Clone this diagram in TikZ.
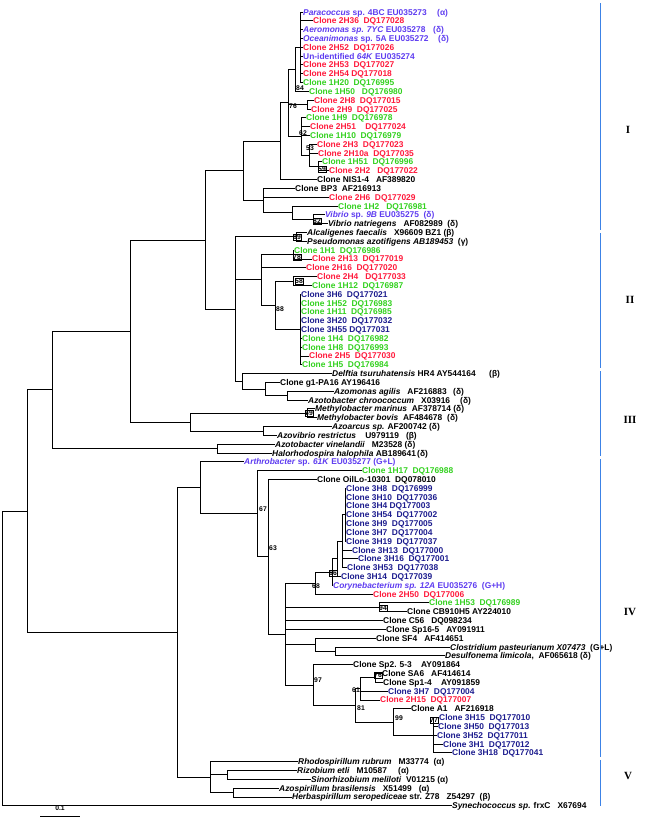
\documentclass[tikz,border=0pt]{standalone}
\usepackage{fontspec}
\setmainfont{Liberation Sans}
\newfontfamily\romfont{Liberation Serif}
\definecolor{cred}{HTML}{FF1A3C}
\definecolor{cgreen}{HTML}{33D11F}
\definecolor{cnavy}{HTML}{1C1C8E}
\definecolor{cviolet}{HTML}{5E3CF0}
\definecolor{cbar}{HTML}{3C82E6}
\newcommand\mkl[4]{\node[lf,text=#2] (l#1) at (#3,{12+(#1-1)*8.82}) {#4};}
\newcommand\mkg[4]{\node[lf,text=#2] (g#1) at (#3,{12+(#1-1)*8.82}) {#4};}
\newcommand\mkc[3]{\coordinate (#1) at (#2,{12+(#3-1)*8.82});}
\newcommand\mke[2]{\draw[br] (#1) |- (#2);}
\newcommand\mkls[2]{\foreach \q in {#2} {\draw[br] (#1) |- (l\q.west);}}
\begin{document}
\begin{tikzpicture}[x=1pt,y=-1pt,
  lf/.style={anchor=west,inner sep=0pt,font=\fontsize{8.4}{9}\selectfont\bfseries,text height=6pt,text depth=0pt},
  br/.style={line width=0.9pt},
  bs/.style={font=\fontsize{6.8}{7}\selectfont\bfseries,inner sep=0.3pt,text height=4.8pt,text depth=0pt},
  bsb/.style={bs,draw,line width=0.4pt},
  rom/.style={font=\romfont\fontsize{11}{12}\selectfont\bfseries},
  grp/.style={cbar,line width=1pt}]
\useasboundingbox (0,0) rectangle (656,820);
% ---------- leaves ----------
\mkl{1}{cviolet}{303}{\textit{Paracoccus} sp. 4BC EU035273}
\mkg{1}{cviolet}{437}{(α)}
\mkl{2}{cred}{313}{Clone 2H36\ \ DQ177028}
\mkl{3}{cviolet}{303}{\textit{Aeromonas sp. 7YC} EU035278}
\mkg{3}{cviolet}{433}{(δ)}
\mkl{4}{cviolet}{303}{\textit{Oceanimonas} sp. 5A EU035272}
\mkg{4}{cviolet}{438}{(δ)}
\mkl{5}{cred}{303}{Clone 2H52\ \ DQ177026}
\mkl{6}{cviolet}{303}{Un-identified \textit{64K} EU035274}
\mkl{7}{cred}{303}{Clone 2H53\ \ DQ177027}
\mkl{8}{cred}{303}{Clone 2H54 DQ177018}
\mkl{9}{cgreen}{303}{Clone 1H20\ \ DQ176995}
\mkl{10}{cgreen}{309}{Clone 1H50\ \ \ DQ176980}
\mkl{11}{cred}{314}{Clone 2H8\ \ DQ177015}
\mkl{12}{cred}{311}{Clone 2H9\ \ DQ177025}
\mkl{13}{cgreen}{306}{Clone 1H9\ \ DQ176978}
\mkl{14}{cred}{310}{Clone 2H51\ \ \ \ DQ177024}
\mkl{15}{cgreen}{310}{Clone 1H10\ \ DQ176979}
\mkl{16}{cred}{317}{Clone 2H3\ \ DQ177023}
\mkl{17}{cred}{318}{Clone 2H10a\ \ DQ177035}
\mkl{18}{cgreen}{322}{Clone 1H51\ \ DQ176996}
\mkl{19}{cred}{329}{Clone 2H2\ \ \ DQ177022}
\mkl{20}{black}{317}{Clone NIS1-4\ \ \ AF389820}
\mkl{21}{black}{295}{Clone BP3\ \ AF216913}
\mkl{22}{cred}{329}{Clone 2H6\ \ DQ177029}
\mkl{23}{cgreen}{338}{Clone 1H2\ \ \ DQ176981}
\mkl{24}{cviolet}{325}{\textit{Vibrio} sp. \textit{9B} EU035275\ \ (δ)}
\mkl{25}{black}{328}{\textit{Vibrio natriegens}\ \ \ AF082989\ \ (δ)}
\mkl{26}{black}{307}{\textit{Alcaligenes faecalis}\ \ \ X96609 BZ1 (β)}
\mkl{27}{black}{307}{\textit{Pseudomonas azotifigens AB189453}\ \ (γ)}
\mkl{28}{cgreen}{294}{Clone 1H1\ \ DQ176986}
\mkl{29}{cred}{312}{Clone 2H13\ \ DQ177019}
\mkl{30}{cred}{306}{Clone 2H16\ \ DQ177020}
\mkl{31}{cred}{317}{Clone 2H4\ \ \ DQ177033}
\mkl{32}{cgreen}{312}{Clone 1H12\ \ DQ176987}
\mkl{33}{cnavy}{301}{Clone 3H6\ \ DQ177021}
\mkl{34}{cgreen}{301}{Clone 1H52\ \ DQ176983}
\mkl{35}{cgreen}{301}{Clone 1H11\ \ DQ176985}
\mkl{36}{cnavy}{301}{Clone 3H20\ \ DQ177032}
\mkl{37}{cnavy}{301}{Clone 3H55 DQ177031}
\mkl{38}{cgreen}{302}{Clone 1H4\ \ DQ176982}
\mkl{39}{cgreen}{302}{Clone 1H8\ \ DQ176993}
\mkl{40}{cred}{309}{Clone 2H5\ \ DQ177030}
\mkl{41}{cgreen}{302}{Clone 1H5\ \ DQ176984}
\mkl{42}{black}{332}{\textit{Delftia tsuruhatensis} HR4 AY544164}
\mkg{42}{black}{489}{(β)}
\mkl{43}{black}{280}{Clone g1-PA16 AY196416}
\mkl{44}{black}{334}{\textit{Azomonas agilis}\ \ \ AF216883}
\mkg{44}{black}{453}{(δ)}
\mkl{45}{black}{308}{\textit{Azotobacter chroococcum}\ \ \ X03916}
\mkg{45}{black}{460}{(δ)}
\mkl{46}{black}{315}{\textit{Methylobacter marinus}\ \ AF378714 (δ)}
\mkl{47}{black}{317}{\textit{Methylobacter bovis}\ \ AF484678}
\mkg{47}{black}{447}{(δ)}
\mkl{48}{black}{332}{\textit{Azoarcus sp.} AF200742 (δ)}
\mkl{49}{black}{277}{\textit{Azovibrio restrictus}\ \ \ \ U979119\ \ \ (β)}
\mkl{50}{black}{275}{\textit{Azotobacter vinelandii}\ \ \ M23528 (δ)}
\mkl{51}{black}{272}{\textit{Halorhodospira halophila} AB189641}
\mkg{51}{black}{417}{(δ)}
\mkl{52}{cviolet}{244}{\textit{Arthrobacter} sp. \textit{61K} EU035277 (G+L)}
\mkl{53}{cgreen}{362}{Clone 1H17\ \ DQ176988}
\mkl{54}{black}{317}{Clone OilLo-10301\ \ DQ078010}
\mkl{55}{cnavy}{346}{Clone 3H8\ \ DQ176999}
\mkl{56}{cnavy}{346}{Clone 3H10\ \ DQ177036}
\mkl{57}{cnavy}{346}{Clone 3H4 DQ177003}
\mkl{58}{cnavy}{346}{Clone 3H54\ \ DQ177002}
\mkl{59}{cnavy}{346}{Clone 3H9\ \ DQ177005}
\mkl{60}{cnavy}{346}{Clone 3H7\ \ DQ177004}
\mkl{61}{cnavy}{346}{Clone 3H19\ \ DQ177037}
\mkl{62}{cnavy}{352}{Clone 3H13\ \ DQ177000}
\mkl{63}{cnavy}{358}{Clone 3H16\ \ DQ177001}
\mkl{64}{cnavy}{347}{Clone 3H53\ \ DQ177038}
\mkl{65}{cnavy}{341}{Clone 3H14\ \ DQ177039}
\mkl{66}{cviolet}{333}{\textit{Corynebacterium sp. 12A} EU035276\ \ (G+H)}
\mkl{67}{cred}{373}{Clone 2H50\ \ DQ177006}
\mkl{68}{cgreen}{429}{Clone 1H53\ \ DQ176989}
\mkl{69}{black}{407}{Clone CB910H5 AY224010}
\mkl{70}{black}{383}{Clone C56\ \ \ DQ098234}
\mkl{71}{black}{386}{Clone Sp16-5\ \ \ AY091911}
\mkl{72}{black}{376}{Clone SF4\ \ \ AF414651}
\mkl{73}{black}{450}{\textit{Clostridium pasteurianum X07473}\ \ (G+L)}
\mkl{74}{black}{445}{\textit{Desulfonema limicola},\ \ AF065618 (δ)}
\mkl{75}{black}{353}{Clone Sp2. 5-3\ \ \ \ AY091864}
\mkl{76}{black}{382}{Clone SA6\ \ \ AF414614}
\mkl{77}{black}{383}{Clone Sp1-4\ \ \ \ AY091859}
\mkl{78}{cnavy}{388}{Clone 3H7\ \ DQ177004}
\mkl{79}{cred}{380}{Clone 2H15\ \ DQ177007}
\mkl{80}{black}{411}{Clone A1\ \ \ AF216918}
\mkl{81}{cnavy}{439}{Clone 3H15\ \ DQ177010}
\mkl{82}{cnavy}{438}{Clone 3H50\ \ DQ177013}
\mkl{83}{cnavy}{437}{Clone 3H52\ \ DQ177011}
\mkl{84}{cnavy}{443}{Clone 3H1\ \ DQ177012}
\mkl{85}{cnavy}{452}{Clone 3H18\ \ DQ177041}
\mkl{86}{black}{298}{\textit{Rhodospirillum rubrum}\ \ \ M33774\ \ (α)}
\mkl{87}{black}{297}{\textit{Rizobium etli}\ \ \ M10587}
\mkg{87}{black}{398}{(α)}
\mkl{88}{black}{311}{\textit{Sinorhizobium meliloti}\ \ V01215 (α)}
\mkl{89}{black}{279}{\textit{Azospirillum brasilensis}\ \ \ X51499\ \ \ (α)}
\mkl{90}{black}{292}{\textit{Herbaspirillum seropediceae} str. Z78\ \ \ Z54297\ \ (β)}
\mkl{91}{black}{452}{\textit{Synechococcus sp.} frxC\ \ \ X67694}
% ---------- internal nodes ----------
\mkc{nTop}{300}{5}
\mkc{n84}{295}{7.5}
\mkc{n2h8}{307}{11.5}
\mkc{n59}{318}{18.5}
\mkc{n53}{309}{17.25}
\mkc{n62}{301}{15.125}
\mkc{n76}{288}{11.31}
\mkc{n280}{280}{15.66}
\mkc{n82}{313}{24.5}
\mkc{n292}{292}{23.75}
\mkc{n263}{263}{22.375}
\mkc{n243}{243}{19.0}
\mkc{n89}{296}{26.5}
\mkc{n78}{293}{28.5}
\mkc{n58}{293}{31.5}
\mkc{n3}{300}{37}
\mkc{n88}{275}{34.25}
\mkc{n261}{261}{31.375}
\mkc{nAzo}{287}{44.5}
\mkc{n265}{265}{43.75}
\mkc{n242}{242}{42.875}
\mkc{n235}{235}{34.69}
\mkc{n69}{307}{46.5}
\mkc{nAzr}{263}{48.5}
\mkc{nAv}{217}{50.5}
\mkc{nA}{205}{26.85}
\mkc{nB}{190}{47.5}
\mkc{nC}{130}{37.2}
\mkc{nD}{52}{43.85}
\mkc{n3Ha}{345}{58}
\mkc{n342}{342}{61}
\mkc{n66}{337}{63}
\mkc{n333}{332}{64.5}
\mkc{n68}{315}{65.75}
\mkc{n94}{379}{68.5}
\mkc{nCl}{335}{73.5}
\mkc{nSF}{315}{72.75}
\mkc{n3H15}{433}{83}
\mkc{n99}{393}{81.5}
\mkc{nSA}{375}{76.5}
\mkc{n61}{360}{77.75}
\mkc{n81}{355}{79.625}
\mkc{n97}{313}{77.31}
\mkc{nX}{285}{71.53}
\mkc{n63}{268}{62.77}
\mkc{n67}{257}{57.88}
\mkc{nAr}{200}{54.94}
\mkc{n227}{227}{87.5}
\mkc{n233}{233}{89.5}
\mkc{nV}{210}{87.75}
\mkc{n177}{177}{71.35}
\mkc{nE}{27}{57.6}
\mkc{nR}{2}{74.3}
% ---------- branches ----------
\mkls{nTop}{1,2,3,4,5,6,7,8,9}
\mke{n84}{nTop}\mkls{n84}{10}
\mkls{n2h8}{11,12}
\mkls{n59}{18,19}
\mkls{n53}{16,17}\mke{n53}{n59}
\mkls{n62}{13,14,15}\mke{n62}{n53}
\mke{n76}{n84}\mke{n76}{n2h8}\mke{n76}{n62}
\mke{n280}{n76}\mkls{n280}{20}
\mkls{n82}{24,25}
\mkls{n292}{23}\mke{n292}{n82}
\mkls{n263}{21,22}\mke{n263}{n292}
\mke{n243}{n280}\mke{n243}{n263}
\mkls{n89}{26,27}
\mkls{n78}{28,29}
\mkls{n58}{31,32}
\mkls{n3}{33,34,35,36,37,38,39,40,41}
\mke{n88}{n58}\mke{n88}{n3}
\mke{n261}{n78}\mkls{n261}{30}\mke{n261}{n88}
\mkls{nAzo}{44,45}
\mkls{n265}{43}\mke{n265}{nAzo}
\mkls{n242}{42}\mke{n242}{n265}
\mke{n235}{n89}\mke{n235}{n261}\mke{n235}{n242}
\mkls{n69}{46,47}
\mkls{nAzr}{48,49}
\mkls{nAv}{50,51}
\mke{nA}{n243}\mke{nA}{n235}
\mke{nB}{n69}\mke{nB}{nAzr}
\mke{nC}{nA}\mke{nC}{nB}
\mke{nD}{nC}\mke{nD}{nAv}
\mkls{n3Ha}{55,56,57,58,59,60,61}
\mke{n342}{n3Ha}\mkls{n342}{62,63,64}
\mke{n66}{n342}\mkls{n66}{65}
\mke{n333}{n66}\mkls{n333}{66}
\mke{n68}{n333}\mkls{n68}{67}
\mkls{n94}{68,69}
\mkls{nCl}{73,74}
\mkls{nSF}{72}\mke{nSF}{nCl}
\mkls{n3H15}{81,82,83,84,85}
\mkls{n99}{80}\mke{n99}{n3H15}
\mkls{nSA}{76,77}
\mke{n61}{nSA}\mkls{n61}{78,79}
\mke{n81}{n61}\mke{n81}{n99}
\mkls{n97}{75}\mke{n97}{n81}
\mke{nX}{n68}\mke{nX}{n94}\mkls{nX}{70,71}\mke{nX}{nSF}\mke{nX}{n97}
\mkls{n63}{54}\mke{n63}{nX}
\mkls{n67}{53}\mke{n67}{n63}
\mkls{nAr}{52}\mke{nAr}{n67}
\mkls{n227}{87,88}
\mkls{n233}{89,90}
\mkls{nV}{86}\mke{nV}{n227}\mke{nV}{n233}
\mke{n177}{nAr}\mke{n177}{nV}
\mke{nE}{nD}\mke{nE}{n177}
\mke{nR}{nE}\mkls{nR}{91}
% ---------- bootstrap values ----------
\node[bs] (b84) at (300,88) {84};
\node[bs] (b76) at (293,106) {76};
\node[bs] (b62) at (303,133) {62};
\node[bs] (b53) at (310,148) {53};
\node[bsb] (b59) at (322,169) {59};
\node[bsb] (b82) at (317,221) {82};
\node[bsb] (b89) at (297,237) {89};
\node[bsb] (b78) at (297,257) {78};
\node[bsb] (b58) at (299,281) {58};
\node[bs] (b88) at (280,309) {88};
\node[bsb] (b69) at (309,413) {69};
\node[bs] (b67) at (263,509) {67};
\node[bs] (b63) at (273,548) {63};
\node[bsb] (b66) at (333,573) {66};
\node[bs] (b68) at (316,586) {68};
\node[bsb] (b94) at (383,608) {94};
\node[bs] (b97) at (318,680) {97};
\node[bsb] (b76b) at (378,675) {76};
\node[bs] (b61) at (356,690) {61};
\node[bs] (b81) at (361,708) {81};
\node[bs] (b99) at (399,718) {99};
\node[bsb] (b77) at (434,720) {77};
% ---------- groups ----------
\draw[grp] (600,3) -- (600,230);
\draw[grp] (600,233) -- (600,368);
\draw[grp] (600,371) -- (600,456);
\draw[grp] (600,459) -- (600,757);
\draw[grp] (600,760) -- (600,806);
\node[rom] (rI) at (628,130) {I};
\node[rom] (rII) at (630,300) {II};
\node[rom] (rIII) at (630,420) {III};
\node[rom] (rIV) at (630,612) {IV};
\node[rom] (rV) at (628,776) {V};
% ---------- scale bar ----------
\coordinate (sb1) at (40,816);
\coordinate (sb2) at (80,816);
\draw[line width=0.8pt] (sb1) -- (sb2);
\node[bs] (sbl) at (60,808) {0.1};
\end{tikzpicture}
\end{document}
